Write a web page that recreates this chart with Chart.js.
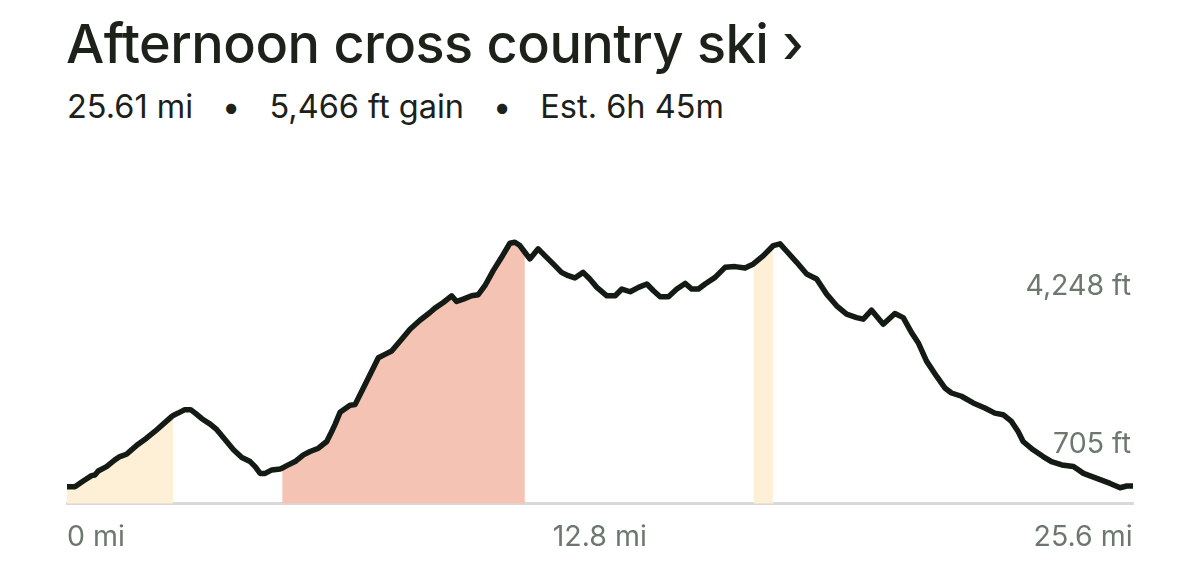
<!DOCTYPE html>
<html lang="en">

<head>
  <meta charset="UTF-8">
  <title>Afternoon cross country ski</title>
  <script src="https://cdn.jsdelivr.net/npm/chart.js"></script>
  <style>
    body {
      margin: 0;
      width: 1200px;
      height: 585px;
      overflow: hidden;
      background: #fff;
      font-family: Inter, "Noto Sans", sans-serif;
    }
    #title {
      position: absolute;
      left: 66px;
      top: 11px;
      font-size: 54px;
      font-weight: 500;
      letter-spacing: -0.5px;
      color: #1c2119;
      white-space: nowrap;
    }
    #stats {
      position: absolute;
      left: 67px;
      top: 87px;
      font-size: 32.5px;
      color: #1c2119;
      white-space: nowrap;
    }
    #stats .dot { margin: 0 29px; }
    #chartContainer {
      position: absolute;
      left: 0;
      top: 140px;
      width: 1200px;
      height: 445px;
    }
  </style>
</head>

<body>

  <div id="title">Afternoon cross country ski ›</div>
  <div id="stats">25.61 mi<span class="dot">•</span>5,466 ft gain<span class="dot">•</span>Est. 6h 45m</div>
  <div id="chartContainer">
    <canvas id="elevation"></canvas>
  </div>

  <script>
    // elevation profile
    const distanceMi = [0.00, 0.19, 0.39, 0.59, 0.67, 0.75, 0.95, 1.15, 1.27, 1.43, 1.55, 1.71, 1.91, 2.11, 2.31, 2.52, 2.55,
      2.67, 2.83, 2.97, 3.08, 3.24, 3.44, 3.60, 3.80, 4.00, 4.20, 4.40, 4.52, 4.64, 4.76, 4.92, 5.12, 5.17,
      5.28, 5.48, 5.68, 5.84, 6.04, 6.24, 6.36, 6.44, 6.56, 6.80, 6.92, 7.12, 7.32, 7.48, 7.64, 7.80, 8.04,
      8.24, 8.48, 8.72, 8.84, 9.04, 9.24, 9.36, 9.52, 9.72, 9.88, 10.04, 10.24, 10.44, 10.64, 10.76, 10.88, 11.00,
      11.12, 11.32, 11.48, 11.68, 11.88, 12.04, 12.20, 12.40, 12.56, 12.73, 12.97, 13.17, 13.33, 13.53, 13.73,
      13.93, 14.09, 14.25, 14.45, 14.65, 14.85, 15.01, 15.17, 15.33, 15.57, 15.81, 16.05, 16.29, 16.49, 16.73,
      16.97, 17.13, 17.29, 17.53, 17.77, 18.01, 18.25, 18.49, 18.73, 18.97, 19.13, 19.33, 19.61, 19.89, 20.09,
      20.29, 20.45, 20.65, 20.89, 21.09, 21.25, 21.49, 21.77, 22.05, 22.29, 22.49, 22.69, 22.85, 22.97, 23.21,
      23.45, 23.65, 23.90, 24.18, 24.42, 24.74, 25.06, 25.30, 25.46, 25.61];
    const elevationFt = [720, 720, 802, 879, 889, 947, 1010, 1107, 1155, 1188, 1252, 1333, 1420, 1517, 1623, 1735, 1749,
      1782, 1832, 1832, 1782, 1701, 1623, 1542, 1397, 1252, 1140, 1082, 1010, 912, 912, 962, 976, 988,
      1024, 1082, 1179, 1227, 1275, 1372, 1517, 1619, 1793, 1894, 1904, 2145, 2387, 2580, 2629, 2677, 2847,
      2992, 3122, 3233, 3297, 3378, 3475, 3392, 3427, 3475, 3490, 3620, 3838, 4030, 4233, 4248, 4200, 4103,
      4007, 4152, 4055, 3935, 3813, 3765, 3732, 3813, 3717, 3596, 3475, 3475, 3572, 3533, 3596,
      3645, 3547, 3461, 3461, 3572, 3653, 3572, 3572, 3645, 3740, 3885, 3896, 3877, 3935, 4055,
      4200, 4225, 4117, 3958, 3790, 3717, 3499, 3330, 3209, 3160, 3137, 3267, 3064, 3218, 3160,
      2943, 2798, 2532, 2315, 2145, 2072, 2025, 1928, 1855, 1782, 1759, 1662, 1517, 1372, 1252,
      1155, 1082, 1034, 1010, 912, 840, 767, 705, 730, 730];

    // steep stretches along the route
    const gradeFrom = [0, 5.17, 16.49];
    const gradeTo = [2.55, 11.00, 16.97];
    const gradeLevel = ['moderate', 'hard', 'moderate'];

    const xTickValues = [0, 12.8, 25.6];
    const totalMi = 25.61;

    const gradeColors = { moderate: '#fdf0d7', hard: '#f5c3b3' };
    const labelColor = '#6c786e';
    const lineColor = '#141b15';

    const points = distanceMi.map((d, i) => ({ x: d, y: elevationFt[i] }));
    const maxElev = Math.max(...elevationFt);
    const minElev = Math.min(...elevationFt);

    const shaded = gradeFrom.map((from, i) => ({
      data: points.filter(p => p.x >= from && p.x <= gradeTo[i]),
      fill: 'start',
      backgroundColor: gradeColors[gradeLevel[i]],
      borderWidth: 0,
      pointRadius: 0,
      order: 1
    }));

    const elevationLabels = {
      id: 'elevationLabels',
      afterDatasetsDraw(chart) {
        const y = chart.scales.y;
        const ctx = chart.ctx;
        const right = chart.chartArea.right - 2;
        ctx.save();
        ctx.font = '28.5px Inter, "Noto Sans", sans-serif';
        ctx.fillStyle = labelColor;
        ctx.textAlign = 'right';
        ctx.textBaseline = 'middle';
        ctx.fillText(maxElev.toLocaleString('en-US') + ' ft', right, y.getPixelForValue(maxElev) + 44);
        ctx.fillText(minElev.toLocaleString('en-US') + ' ft', right, y.getPixelForValue(minElev) - 43);
        ctx.restore();
      }
    };

    const ctx = document.getElementById('elevation').getContext('2d');
    new Chart(ctx, {
      type: 'line',
      data: {
        datasets: [
          {
            data: points,
            borderColor: lineColor,
            borderWidth: 5.5,
            borderJoinStyle: 'round',
            borderCapStyle: 'round',
            tension: 0,
            pointRadius: 0,
            fill: false,
            order: 0
          },
          ...shaded
        ]
      },
      options: {
        responsive: true,
        maintainAspectRatio: false,
        animation: false,
        layout: {
          padding: { left: 67, right: 67, top: 0, bottom: 13 }
        },
        plugins: {
          legend: { display: false },
          tooltip: { enabled: false }
        },
        scales: {
          x: {
            type: 'linear',
            min: 0,
            max: totalMi,
            z: 1,
            afterBuildTicks: scale => {
              scale.ticks = xTickValues.map(v => ({ value: v }));
            },
            grid: { display: false, drawTicks: false },
            border: { display: true, color: 'rgba(0, 0, 0, 0.15)', width: 3 },
            ticks: {
              align: 'inner',
              padding: 17,
              maxRotation: 0,
              autoSkip: false,
              color: labelColor,
              font: { family: 'Inter', size: 28.5 },
              callback: v => v + ' mi'
            }
          },
          y: {
            display: false,
            min: 473,
            max: 5723
          }
        }
      },
      plugins: [elevationLabels]
    });
  </script>
</body>

</html>
